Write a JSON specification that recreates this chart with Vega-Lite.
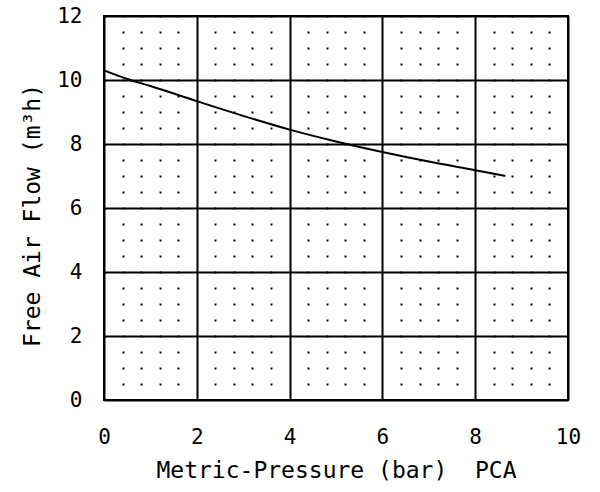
{
  "$schema": "https://vega.github.io/schema/vega-lite/v6.json",
  "description": "Free air flow vs metric pressure (PCA)",
  "autosize": {"type": "none"},
  "padding": {"left": 104, "top": 16, "right": 32, "bottom": 92},
  "width": 464,
  "height": 384,
  "background": "white",
  "view": {"stroke": "black", "strokeWidth": 2},
  "config": {
    "font": "DejaVu Sans Mono",
    "axis": {
      "domain": false,
      "ticks": false,
      "labelFont": "DejaVu Sans Mono",
      "labelFontSize": 21,
      "labelColor": "black",
      "titleFont": "DejaVu Sans Mono",
      "titleFontSize": 23,
      "titleFontWeight": "normal",
      "titleColor": "black",
      "gridColor": "black",
      "gridOpacity": 1,
      "labelOverlap": false,
      "labelFlush": false
    }
  },
  "data": {
    "values": [
      {"pressure": 0, "flow": 10.3},
      {"pressure": 0.5, "flow": 10.03},
      {"pressure": 1, "flow": 9.81},
      {"pressure": 2, "flow": 9.34},
      {"pressure": 3, "flow": 8.88},
      {"pressure": 4, "flow": 8.45},
      {"pressure": 5, "flow": 8.08},
      {"pressure": 6, "flow": 7.75},
      {"pressure": 7, "flow": 7.45},
      {"pressure": 8, "flow": 7.18},
      {"pressure": 8.65, "flow": 7.0}
    ]
  },
  "mark": {"type": "line", "color": "black", "strokeWidth": 2, "interpolate": "monotone"},
  "encoding": {
    "x": {
      "field": "pressure",
      "type": "quantitative",
      "scale": {"domain": [0, 10], "nice": false, "zero": false},
      "axis": {
        "title": "Metric-Pressure (bar)\u00a0\u00a0PCA",
        "titleBaseline": "alphabetic",
        "titleY": 77,
        "labelPadding": 26,
        "values": [0, 0.4, 0.8, 1.2, 1.6, 2, 2.4, 2.8, 3.2, 3.6, 4, 4.4, 4.8, 5.2, 5.6, 6, 6.4, 6.8, 7.2, 7.6, 8, 8.4, 8.8, 9.2, 9.6, 10],
        "labelExpr": "datum.value % 2 === 0 ? '' + datum.value : ''",
        "grid": true,
        "gridWidth": 2,
        "gridDash": {"condition": {"test": "datum.value % 2 === 0", "value": []}, "value": [2, 14]},
        "gridDashOffset": 1
      }
    },
    "y": {
      "field": "flow",
      "type": "quantitative",
      "scale": {"domain": [0, 12], "nice": false, "zero": false},
      "axis": {
        "title": "Free Air Flow (m³h)",
        "titleAngle": -90,
        "titleX": -72,
        "titleY": 199,
        "titleAlign": "center",
        "titleBaseline": "middle",
        "labelPadding": 22,
        "values": [0, 2, 4, 6, 8, 10, 12],
        "grid": true,
        "gridWidth": 2
      }
    }
  }
}
